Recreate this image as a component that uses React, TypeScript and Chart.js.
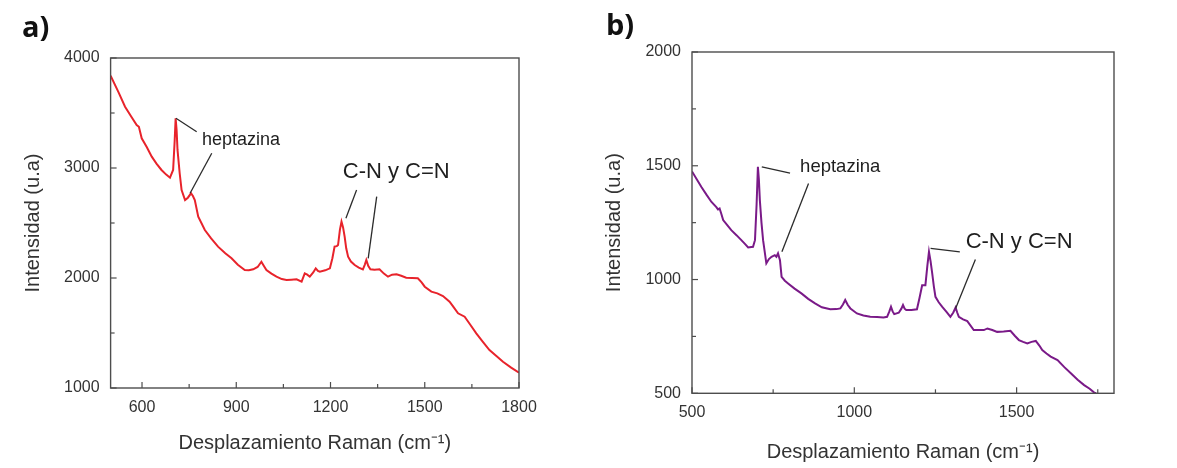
import React, { useEffect, useRef } from "react";
import { Chart, registerables } from "chart.js";

Chart.register(...registerables);

const FONT = "'Liberation Sans', Arial, sans-serif";

// ---------- Panel a) data ----------
const ramanA = [
  500, 525, 546, 565, 583, 590, 599, 615, 631, 646, 662, 677, 689, 699, 704, 707, 710, 713, 720, 726,
  737, 746, 756, 762, 768, 779, 800, 820, 842, 865, 885, 905, 927, 940, 954, 968, 980, 988, 996, 1012,
  1028, 1045, 1060, 1075, 1092, 1108, 1118, 1126, 1134, 1145, 1153, 1160, 1166, 1183, 1198, 1206, 1213,
  1220, 1224, 1230, 1235, 1240, 1245, 1250, 1256, 1265, 1277, 1290, 1303, 1309, 1314, 1320, 1327, 1340,
  1356, 1370, 1383, 1396, 1410, 1425, 1441, 1460, 1478, 1490, 1500, 1521, 1540, 1558, 1579, 1593, 1606,
  1627, 1645, 1664, 1685, 1706, 1728, 1749, 1775, 1800,
];
const intensityA = [
  3840, 3690, 3557, 3470, 3391, 3375, 3270, 3190, 3103, 3040, 2982, 2940, 2912, 2982, 3250, 3452, 3350,
  3164, 2950, 2800, 2709, 2730, 2770, 2745, 2709, 2557, 2436, 2360, 2285, 2225, 2179, 2120, 2073, 2070,
  2079, 2100, 2148, 2110, 2073, 2040, 2012, 1990, 1982, 1985, 1988, 1967, 2042, 2030, 2012, 2050, 2088,
  2065, 2058, 2070, 2088, 2180, 2285, 2290, 2300, 2440, 2512, 2460, 2376, 2270, 2194, 2150, 2118, 2095,
  2079, 2120, 2164, 2110, 2079, 2075, 2079, 2040, 2012, 2030, 2033, 2020, 2003, 2000, 1997, 1960, 1921,
  1876, 1860, 1836, 1785, 1730, 1679, 1648, 1575, 1497, 1420, 1345, 1290, 1239, 1185, 1140,
];
const xTicksA = [600, 900, 1200, 1500, 1800];
const xMinorA = [750, 1050, 1350, 1650];
const yTicksA = [1000, 2000, 3000, 4000];
const yMinorA = [1500, 2500, 3500];

// ---------- Panel b) data ----------
const ramanB = [
  500, 515, 529, 545, 560, 575, 580, 585, 590, 596, 608, 621, 637, 652, 663, 673, 688, 694, 699, 703,
  706, 709, 714, 719, 729, 737, 745, 755, 760, 765, 771, 776, 786, 796, 816, 837, 858, 879, 900, 926,
  945, 957, 965, 972, 980, 988, 1008, 1028, 1049, 1070, 1090, 1101, 1108, 1113, 1118, 1123, 1137, 1145,
  1150, 1155, 1160, 1176, 1193, 1201, 1209, 1219, 1225, 1230, 1235, 1240, 1245, 1250, 1260, 1271, 1284,
  1296, 1305, 1312, 1317, 1322, 1335, 1348, 1368, 1385, 1399, 1410, 1425, 1440, 1460, 1481, 1495, 1507,
  1520, 1533, 1546, 1559, 1570, 1579, 1592, 1605, 1626, 1647, 1667, 1688, 1708, 1725, 1739, 1745,
];
const intensityB = [
  1475, 1440, 1407, 1372, 1341, 1318, 1308, 1312, 1290, 1261, 1240, 1217, 1195, 1173, 1157, 1141, 1144,
  1173, 1330, 1495, 1440, 1349, 1250, 1173, 1071, 1090, 1100, 1107, 1100, 1115, 1085, 1012, 995, 983,
  960, 939, 915, 895, 878, 869, 870, 873, 890, 910, 888, 873, 851, 842, 836, 835, 833, 836, 860, 880,
  860, 848, 854, 872, 888, 872, 866, 866, 869, 920, 975, 975, 1060, 1122, 1080, 1027, 970, 924, 900,
  880, 858, 836, 855, 877, 855, 836, 825, 817, 778, 778, 778, 785, 778, 770, 772, 775, 752, 734, 726,
  719, 726, 730, 710, 690, 675, 661, 646, 615, 588, 560, 536, 520, 503, 500,
];
const xTicksB = [500, 1000, 1500];
const xMinorB = [750, 1250, 1750];
const yTicksB = [500, 1000, 1500, 2000];
const yMinorB = [750, 1250, 1750];

// ---------- annotations (text, anchor in data units) ----------
const annotTextA = ["heptazina", "C-N y C=N"];
const annotPosA: [number, number][] = [[791, 3255], [1239, 2966]];
const annotLinesA: [number, number, number, number][] = [
  [708, 3452, 774, 3330],
  [822, 3134, 753, 2770],
  [1283, 2800, 1249, 2543],
  [1347, 2739, 1320, 2179],
];
const annotTextB = ["heptazina", "C-N y C=N"];
const annotPosB: [number, number][] = [[833, 1495], [1343, 1165]];
const annotLinesB: [number, number, number, number][] = [
  [715, 1495, 802, 1468],
  [859, 1422, 777, 1122],
  [1235, 1137, 1325, 1122],
  [1373, 1088, 1312, 873],
];

interface PanelSpec {
  xs: number[];
  ys: number[];
  color: string;
  xMin: number;
  xMax: number;
  yMin: number;
  yMax: number;
  xTicks: number[];
  xMinor: number[];
  yTicks: number[];
  yMinor: number[];
  texts: string[];
  textPos: [number, number][];
  lines: [number, number, number, number][];
  padding: { left: number; top: number; right: number; bottom: number };
  yAxisWidth: number;
  xAxisHeight: number;
  yTitlePad: number;
  xTitlePad: number;
  textSizes: number[];
}

function makeDecor(spec: PanelSpec) {
  return {
    id: "decor",
    afterDraw(chart: any) {
      const { ctx, chartArea: a } = chart;
      const x = chart.scales.x;
      const y = chart.scales.y;
      ctx.save();
      ctx.strokeStyle = "#4d4d4d";
      ctx.lineWidth = 1.4;
      ctx.strokeRect(a.left, a.top, a.right - a.left, a.bottom - a.top);
      const xt = (vals: number[], len: number) =>
        vals.forEach((v) => {
          const px = x.getPixelForValue(v);
          ctx.beginPath();
          ctx.moveTo(px, a.bottom);
          ctx.lineTo(px, a.bottom - len);
          ctx.stroke();
        });
      const yt = (vals: number[], len: number) =>
        vals.forEach((v) => {
          const py = y.getPixelForValue(v);
          ctx.beginPath();
          ctx.moveTo(a.left, py);
          ctx.lineTo(a.left + len, py);
          ctx.stroke();
        });
      ctx.lineWidth = 1.2;
      xt(spec.xTicks, 6);
      xt(spec.xMinor, 4);
      yt(spec.yTicks, 6);
      yt(spec.yMinor, 4);

      ctx.strokeStyle = "#2b2b2b";
      ctx.lineWidth = 1.3;
      spec.lines.forEach(([x1, y1, x2, y2]) => {
        ctx.beginPath();
        ctx.moveTo(x.getPixelForValue(x1), y.getPixelForValue(y1));
        ctx.lineTo(x.getPixelForValue(x2), y.getPixelForValue(y2));
        ctx.stroke();
      });
      ctx.fillStyle = "#1e1e1e";
      ctx.textBaseline = "middle";
      ctx.textAlign = "left";
      spec.texts.forEach((t, i) => {
        ctx.font = `${spec.textSizes[i]}px ${FONT}`;
        const [vx, vy] = spec.textPos[i];
        ctx.fillText(t, x.getPixelForValue(vx), y.getPixelForValue(vy));
      });
      ctx.restore();
    },
  };
}

function Panel({ spec, left, width }: { spec: PanelSpec; left: number; width: number }) {
  const ref = useRef<HTMLCanvasElement | null>(null);
  useEffect(() => {
    if (!ref.current) return;
    const chart = new Chart(ref.current, {
      type: "line",
      data: {
        datasets: [
          {
            data: spec.xs.map((v, i) => ({ x: v, y: spec.ys[i] })),
            borderColor: spec.color,
            borderWidth: 2,
            pointRadius: 0,
            tension: 0,
            fill: false,
          },
        ],
      },
      options: {
        responsive: false,
        animation: false,
        layout: { padding: spec.padding },
        plugins: { legend: { display: false }, tooltip: { enabled: false } },
        scales: {
          x: {
            type: "linear",
            min: spec.xMin,
            max: spec.xMax,
            grid: { display: false, drawTicks: false },
            border: { display: false },
            afterBuildTicks: (s: any) => {
              s.ticks = spec.xTicks.map((value) => ({ value }));
            },
            afterFit: (s: any) => {
              s.height = spec.xAxisHeight;
            },
            ticks: {
              autoSkip: false,
              maxRotation: 0,
              padding: 10,
              color: "#333",
              font: { family: FONT, size: 16 },
              callback: (v: any) => String(v),
            },
            title: {
              display: true,
              text: "Desplazamiento Raman (cm⁻¹)",
              color: "#333",
              font: { family: FONT, size: 20 },
              padding: { top: spec.xTitlePad, bottom: spec.xTitlePad },
            },
          },
          y: {
            type: "linear",
            min: spec.yMin,
            max: spec.yMax,
            grid: { display: false, drawTicks: false },
            border: { display: false },
            afterBuildTicks: (s: any) => {
              s.ticks = spec.yTicks.map((value) => ({ value }));
            },
            afterFit: (s: any) => {
              s.width = spec.yAxisWidth;
            },
            ticks: {
              autoSkip: false,
              padding: 11,
              color: "#333",
              font: { family: FONT, size: 16 },
              callback: (v: any) => String(v),
            },
            title: {
              display: true,
              text: "Intensidad (u.a)",
              color: "#333",
              font: { family: FONT, size: 20 },
              padding: { top: spec.yTitlePad, bottom: spec.yTitlePad },
            },
          },
        },
      },
      plugins: [makeDecor(spec)],
    } as any);
    return () => chart.destroy();
  }, [spec]);
  return (
    <canvas
      ref={ref}
      width={width}
      height={468}
      style={{ position: "absolute", left, top: 0, width, height: 468 }}
    />
  );
}

const specA: PanelSpec = {
  xs: ramanA,
  ys: intensityA,
  color: "#e8232b",
  xMin: 500,
  xMax: 1800,
  yMin: 1000,
  yMax: 4000,
  xTicks: xTicksA,
  xMinor: xMinorA,
  yTicks: yTicksA,
  yMinor: yMinorA,
  texts: annotTextA,
  textPos: annotPosA,
  lines: annotLinesA,
  padding: { left: 18, top: 58, right: 71, bottom: 0 },
  yAxisWidth: 92.6,
  xAxisHeight: 80,
  yTitlePad: 3,
  xTitlePad: 13,
  textSizes: [18, 22],
};

const specB: PanelSpec = {
  xs: ramanB,
  ys: intensityB,
  color: "#7a1a88",
  xMin: 500,
  xMax: 1800,
  yMin: 500,
  yMax: 2000,
  xTicks: xTicksB,
  xMinor: xMinorB,
  yTicks: yTicksB,
  yMinor: yMinorB,
  texts: annotTextB,
  textPos: annotPosB,
  lines: annotLinesB,
  padding: { left: 8, top: 52, right: 63, bottom: 0 },
  yAxisWidth: 94,
  xAxisHeight: 74.7,
  yTitlePad: 4,
  xTitlePad: 4,
  textSizes: [18.5, 22],
};

export default function App() {
  return (
    <div
      style={{
        position: "absolute",
        left: 0,
        top: 0,
        width: 1177,
        height: 468,
        background: "#ffffff",
        overflow: "hidden",
      }}
    >
      <Panel spec={specA} left={0} width={590} />
      <Panel spec={specB} left={590} width={587} />
      <div
        style={{
          position: "absolute",
          left: 22,
          top: 8,
          fontFamily: "'Open Sans', 'Noto Sans', sans-serif",
          fontWeight: 700,
          fontSize: 29,
          lineHeight: "36px",
          color: "#111",
        }}
      >
        a)
      </div>
      <div
        style={{
          position: "absolute",
          left: 606,
          top: 6,
          fontFamily: "'Open Sans', 'Noto Sans', sans-serif",
          fontWeight: 700,
          fontSize: 29,
          lineHeight: "36px",
          color: "#111",
        }}
      >
        b)
      </div>
    </div>
  );
}
